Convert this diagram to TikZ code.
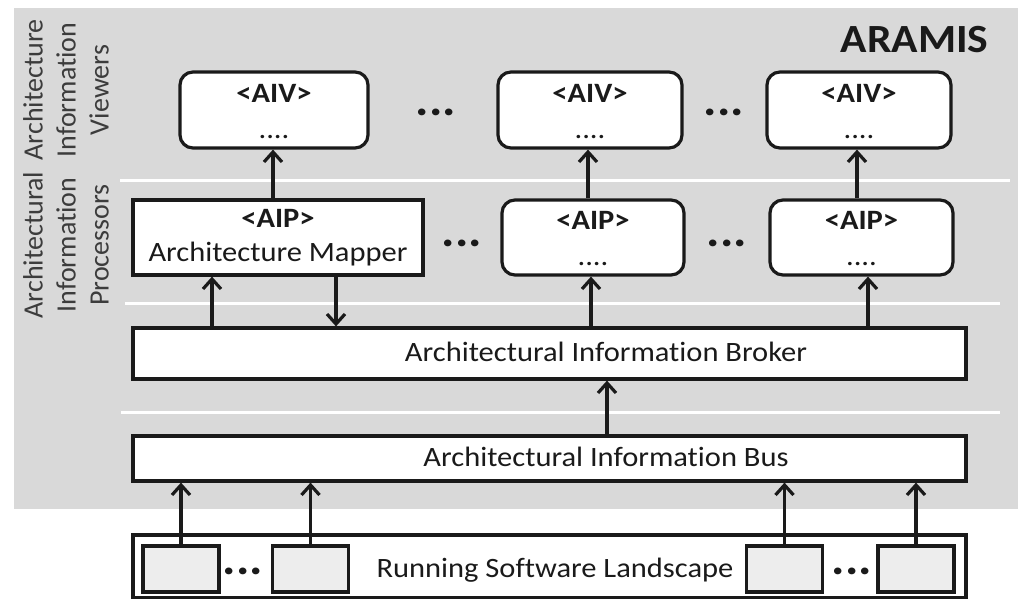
\documentclass[tikz,border=0pt]{standalone}
\usepackage{fontspec}
\setmainfont{Carlito}[FakeStretch=1.09,Ligatures=NoCommon]
\newfontfamily\sidefont{Carlito}[Ligatures=NoCommon]
\usetikzlibrary{arrows.meta}
\definecolor{bggray}{HTML}{D9D9D9}
\definecolor{ink}{HTML}{1A1A1A}
\definecolor{boxgray}{HTML}{EDEDED}
\newcommand{\hdtxt}[1]{\rule{0pt}{21pt}\textbf{#1}\\[2pt]....}
\begin{document}
\begin{tikzpicture}[x=1pt,y=-1pt,
  every node/.style={text=ink},
  txt/.style={font=\fontsize{28}{34}\selectfont},
  boxbase/.style={draw=ink, line width=3.2pt, fill=white, inner sep=0pt},
  rbox/.style={boxbase, rounded corners=13pt, minimum height=76pt, align=center,
     font=\fontsize{28}{34}\selectfont},
  sqbox/.style={boxbase, minimum height=75pt},
  wide/.style={boxbase, minimum width=833pt},
  sw/.style={draw=ink, line width=3.2pt, fill=boxgray, minimum width=76pt, minimum height=46pt},
  arr/.style={draw=ink, line width=3.2pt, -{Straight Barb[length=10pt,width=18pt,line width=3.2pt]}},
  sep/.style={draw=white, line width=3pt},
  dots/.style={font=\bfseries\fontsize{46}{46}\selectfont, anchor=base, inner sep=0pt},
  side/.style={rotate=90, align=center, text=ink!85, font=\sidefont\fontsize{28}{33}\selectfont}]
\useasboundingbox (0,0) rectangle (1018,599);
% background
\fill[bggray] (14,8) rectangle (1018,509);
\draw[sep] (120,181) -- (1010,181);
\draw[sep] (125,303) -- (1000,303);
\draw[sep] (121,412) -- (1000,412);
% side labels
\node[side] (lblv) at (66,90) {Architecture\\Information\\Viewers};
\node[side] (lblp) at (66,245) {Architectural\\Information\\Processors};
\node[font=\bfseries\fontsize{40}{44}\selectfont, anchor=east] (aramis) at (992,40) {ARAMIS};
% AIV row
\node[rbox, minimum width=188pt] (aiv1) at (274,110) {\hdtxt{<AIV>}};
\node[rbox, minimum width=184pt] (aiv2) at (590,110) {\hdtxt{<AIV>}};
\node[rbox, minimum width=184pt] (aiv3) at (859,110) {\hdtxt{<AIV>}};
\node[dots] (d1) at (436,116) {...};
\node[dots] (d2) at (724,116) {...};
% AIP row
\node[sqbox, minimum width=290pt, align=center, font=\fontsize{28}{34}\selectfont] (map) at (278,237.5) {\textbf{<AIP>}\\Architecture Mapper};
\node[rbox, minimum width=182pt, minimum height=75pt] (aip2) at (593,237.5) {\hdtxt{<AIP>}};
\node[rbox, minimum width=183pt, minimum height=75pt] (aip3) at (861.5,237.5) {\hdtxt{<AIP>}};
\node[dots] (d3) at (462,246) {...};
\node[dots] (d4) at (727,246) {...};
% broker and bus
\node[wide, minimum height=51pt] (broker) at (549.5,353.5) {};
\node[txt] (brokert) at (606,352) {Architectural Information Broker};
\node[wide, minimum height=45pt] (bus) at (549.5,458.5) {};
\node[txt] (bust) at (606,457) {Architectural Information Bus};
% landscape
\draw[draw=ink, line width=3.2pt, fill=white] (133,535) rectangle (966,598);
\node[sw] (s1) at (181,569) {};
\node[sw] (s2) at (310.5,569) {};
\node[sw] (s3) at (784.5,569) {};
\node[sw] (s4) at (916,569) {};
\node[dots] (d5) at (243,574) {...};
\node[dots] (d6) at (852,574) {...};
\node[txt] (landt) at (555,570) {Running Software Landscape};
% arrows
\draw[arr] (273,0 |- map.north) -- (273,0 |- aiv1.south);
\draw[arr] (588,0 |- aip2.north) -- (588,0 |- aiv2.south);
\draw[arr] (857,0 |- aip3.north) -- (857,0 |- aiv3.south);
\draw[arr] (212,0 |- broker.north) -- (212,0 |- map.south);
\draw[arr] (336,0 |- map.south) -- (336,0 |- broker.north);
\draw[arr] (591,0 |- broker.north) -- (591,0 |- aip2.south);
\draw[arr] (868,0 |- broker.north) -- (868,0 |- aip3.south);
\draw[arr] (607,0 |- bus.north) -- (607,0 |- broker.south);
\draw[arr] (s1.north) -- (s1.north |- bus.south);
\draw[arr] (s2.north) -- (s2.north |- bus.south);
\draw[arr] (s3.north) -- (s3.north |- bus.south);
\draw[arr] (s4.north) -- (s4.north |- bus.south);
\end{tikzpicture}
\end{document}
